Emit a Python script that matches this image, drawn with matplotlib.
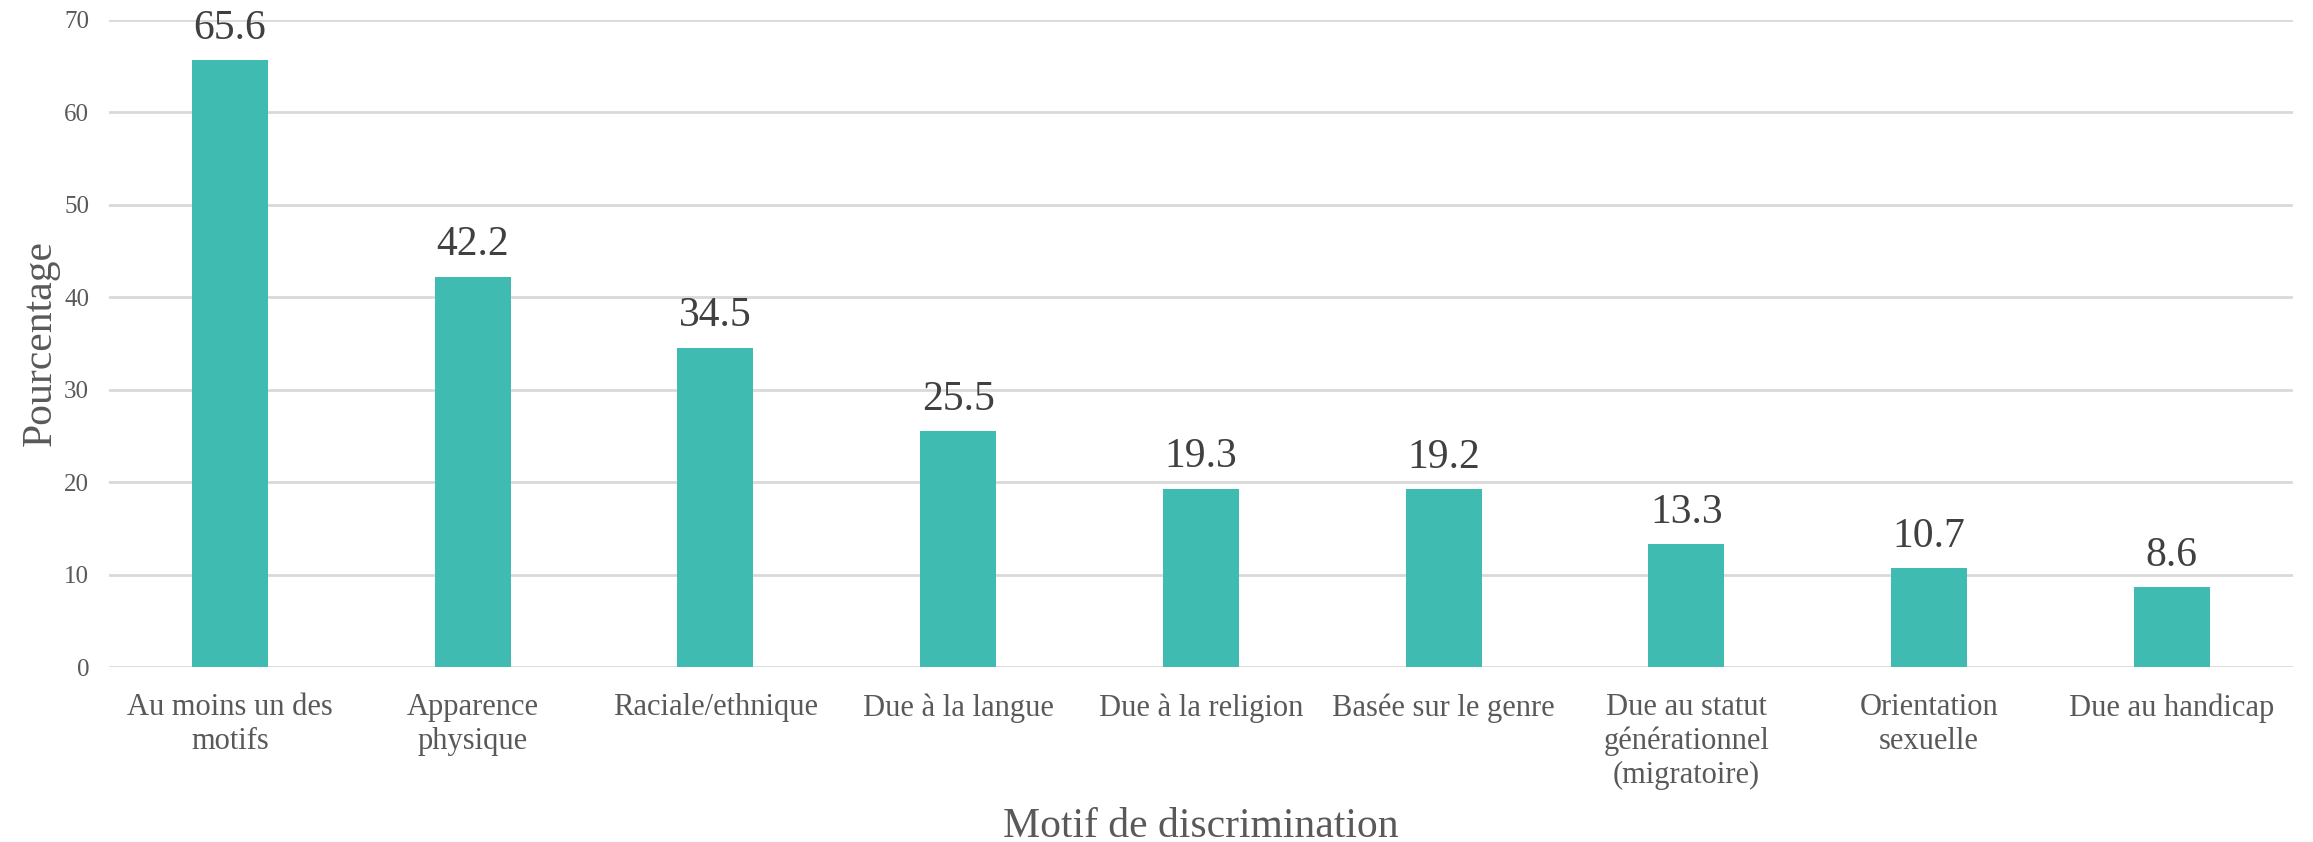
import matplotlib
matplotlib.use("Agg")
import matplotlib.pyplot as plt

# Data
categories = [
    "Au moins un des\nmotifs",
    "Apparence\nphysique",
    "Raciale/ethnique",
    "Due à la langue",
    "Due à la religion",
    "Basée sur le genre",
    "Due au statut\ngénérationnel\n(migratoire)",
    "Orientation\nsexuelle",
    "Due au handicap",
]
values = [65.6, 42.2, 34.5, 25.5, 19.3, 19.2, 13.3, 10.7, 8.6]
yticks = [0, 10, 20, 30, 40, 50, 60, 70]

plt.rcParams["font.family"] = ["Liberation Serif", "DejaVu Serif"]

fig = plt.figure(figsize=(23.13, 8.42), dpi=100)
ax = fig.add_axes([0.04695, 0.2078, 0.9445, 0.769])

x = range(len(categories))
bars = ax.bar(x, values, width=0.313, color="#40BBB2", zorder=3)

# Value labels
for rect, v in zip(bars, values):
    ax.annotate(f"{v}", (rect.get_x() + rect.get_width() / 2, v),
                xytext=(0, 9), textcoords="offset points",
                ha="center", va="bottom", fontsize=30, color="#404040")

ax.set_xlim(-0.5, len(categories) - 0.5)
ax.set_ylim(0, 70)
ax.set_yticks(yticks)
ax.set_xticks(list(x))
ax.set_xticklabels(categories, fontsize=22, color="#595959", linespacing=1.2)
ax.tick_params(axis="y", labelsize=18, labelcolor="#595959", length=0, pad=14)
ax.tick_params(axis="x", length=0, pad=19)

ax.grid(axis="y", color="#D9D9D9", linewidth=2, zorder=0)
for s in ["top", "right", "left", "bottom"]:
    ax.spines[s].set_visible(False)

ax.set_ylabel("Pourcentage", fontsize=30, color="#595959", labelpad=3)
ax.set_xlabel("Motif de discrimination", fontsize=30, color="#595959", labelpad=13)

fig.savefig("out.png", dpi=100)
